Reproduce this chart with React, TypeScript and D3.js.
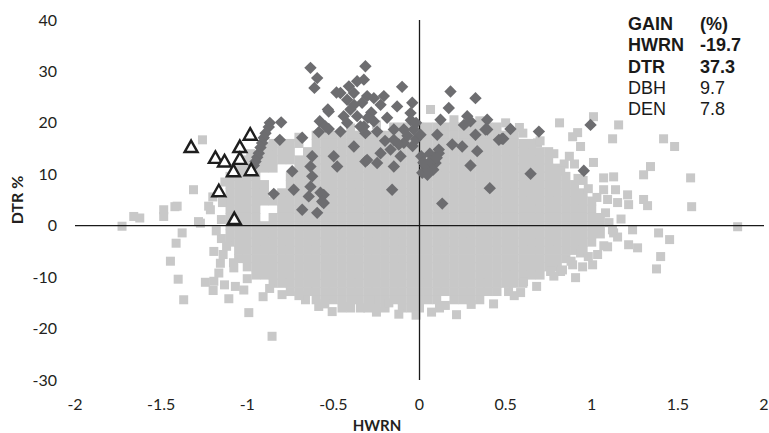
import React from 'react';
import * as d3 from 'd3';

const W = 769;
const H = 433;

const xTicks = [-2, -1.5, -1, -0.5, 0, 0.5, 1, 1.5, 2];
const yTicks = [-30, -20, -10, 0, 10, 20, 30, 40];

// Dense cloud of light-grey squares
const grayRows: [number, number[]][] = [
  [19.2, [-0.15, -0.1, -0.05, 0, 0.05, 0.1, 0.15, 0.2, 0.25, 0.3, 0.35, 0.4, 0.45]],
  [17.6, [-0.6, -0.55, -0.5, -0.45, -0.4, -0.35, -0.3, -0.25, -0.2, -0.15, -0.1, -0.05, 0, 0.05, 0.1, 0.15, 0.2, 0.25, 0.3, 0.35, 0.4, 0.45, 0.5, 0.55]],
  [16.0, [-0.85, -0.8, -0.75, -0.7, -0.6, -0.55, -0.5, -0.45, -0.4, -0.35, -0.3, -0.25, -0.2, -0.15, -0.1, -0.05, 0, 0.05, 0.1, 0.15, 0.2, 0.25, 0.3, 0.35, 0.4, 0.45, 0.5, 0.55, 0.6, 0.65]],
  [14.4, [-0.9, -0.85, -0.8, -0.75, -0.65, -0.6, -0.55, -0.5, -0.45, -0.4, -0.35, -0.3, -0.25, -0.2, -0.15, -0.1, -0.05, 0, 0.05, 0.1, 0.15, 0.2, 0.25, 0.3, 0.35, 0.4, 0.45, 0.5, 0.55, 0.6, 0.65, 0.7, 0.75]],
  [12.8, [-1, -0.95, -0.9, -0.85, -0.8, -0.75, -0.7, -0.65, -0.6, -0.55, -0.5, -0.45, -0.4, -0.35, -0.3, -0.25, -0.2, -0.15, -0.1, -0.05, 0, 0.05, 0.1, 0.15, 0.2, 0.25, 0.3, 0.35, 0.4, 0.45, 0.5, 0.55, 0.6, 0.65, 0.7, 0.75]],
  [11.2, [-1.05, -1, -0.95, -0.9, -0.85, -0.7, -0.65, -0.6, -0.55, -0.5, -0.45, -0.4, -0.35, -0.3, -0.25, -0.2, -0.15, -0.1, -0.05, 0, 0.05, 0.1, 0.15, 0.2, 0.25, 0.3, 0.35, 0.4, 0.45, 0.5, 0.55, 0.6, 0.65, 0.7, 0.75, 0.8]],
  [9.6, [-1.1, -1.05, -1, -0.95, -0.75, -0.7, -0.65, -0.6, -0.55, -0.5, -0.45, -0.4, -0.35, -0.3, -0.25, -0.2, -0.15, -0.1, -0.05, 0, 0.05, 0.1, 0.15, 0.2, 0.25, 0.3, 0.35, 0.4, 0.45, 0.5, 0.55, 0.6, 0.65, 0.7, 0.75, 0.8, 0.85]],
  [8.0, [-1.1, -1.05, -1, -0.95, -0.9, -0.75, -0.7, -0.65, -0.6, -0.55, -0.5, -0.45, -0.4, -0.35, -0.3, -0.25, -0.2, -0.15, -0.1, -0.05, 0, 0.05, 0.1, 0.15, 0.2, 0.25, 0.3, 0.35, 0.4, 0.45, 0.5, 0.55, 0.6, 0.65, 0.7, 0.75, 0.8, 0.85, 0.9]],
  [6.4, [-1.1, -1.05, -1, -0.95, -0.9, -0.8, -0.75, -0.7, -0.65, -0.6, -0.55, -0.5, -0.45, -0.4, -0.35, -0.3, -0.25, -0.2, -0.15, -0.1, -0.05, 0, 0.05, 0.1, 0.15, 0.2, 0.25, 0.3, 0.35, 0.4, 0.45, 0.5, 0.55, 0.6, 0.65, 0.7, 0.75, 0.8, 0.85, 0.9, 0.95]],
  [4.8, [-1.1, -1.05, -1, -0.95, -0.9, -0.85, -0.8, -0.75, -0.7, -0.65, -0.6, -0.55, -0.5, -0.45, -0.4, -0.35, -0.3, -0.25, -0.2, -0.15, -0.1, -0.05, 0, 0.05, 0.1, 0.15, 0.2, 0.25, 0.3, 0.35, 0.4, 0.45, 0.5, 0.55, 0.6, 0.65, 0.7, 0.75, 0.8, 0.85, 0.9, 0.95, 1]],
  [3.2, [-1.1, -1.05, -1, -0.95, -0.8, -0.75, -0.7, -0.65, -0.6, -0.55, -0.5, -0.45, -0.4, -0.35, -0.3, -0.25, -0.2, -0.15, -0.1, -0.05, 0, 0.05, 0.1, 0.15, 0.2, 0.25, 0.3, 0.35, 0.4, 0.45, 0.5, 0.55, 0.6, 0.65, 0.7, 0.75, 0.8, 0.85, 0.9, 0.95, 1]],
  [1.6, [-1.1, -1.05, -1, -0.95, -0.85, -0.8, -0.75, -0.7, -0.65, -0.6, -0.55, -0.5, -0.45, -0.4, -0.35, -0.3, -0.25, -0.2, -0.15, -0.1, -0.05, 0, 0.05, 0.1, 0.15, 0.2, 0.25, 0.3, 0.35, 0.4, 0.45, 0.5, 0.55, 0.6, 0.65, 0.7, 0.75, 0.8, 0.85, 0.9, 0.95, 1, 1.05]],
  [0, [-1.1, -1.05, -1, -0.95, -0.9, -0.85, -0.8, -0.75, -0.7, -0.65, -0.6, -0.55, -0.5, -0.45, -0.4, -0.35, -0.3, -0.25, -0.2, -0.15, -0.1, -0.05, 0, 0.05, 0.1, 0.15, 0.2, 0.25, 0.3, 0.35, 0.4, 0.45, 0.5, 0.55, 0.6, 0.65, 0.7, 0.75, 0.8, 0.85, 0.9, 0.95, 1, 1.05]],
  [-1.6, [-1.1, -1.05, -1, -0.95, -0.9, -0.85, -0.8, -0.75, -0.7, -0.65, -0.6, -0.55, -0.5, -0.45, -0.4, -0.35, -0.3, -0.25, -0.2, -0.15, -0.1, -0.05, 0, 0.05, 0.1, 0.15, 0.2, 0.25, 0.3, 0.35, 0.4, 0.45, 0.5, 0.55, 0.6, 0.65, 0.7, 0.75, 0.8, 0.85, 0.9, 0.95, 1, 1.05]],
  [-3.2, [-1.1, -1.05, -1, -0.95, -0.9, -0.85, -0.8, -0.75, -0.7, -0.65, -0.6, -0.55, -0.5, -0.45, -0.4, -0.35, -0.3, -0.25, -0.2, -0.15, -0.1, -0.05, 0, 0.05, 0.1, 0.15, 0.2, 0.25, 0.3, 0.35, 0.4, 0.45, 0.5, 0.55, 0.6, 0.65, 0.7, 0.75, 0.8, 0.85, 0.9, 0.95, 1]],
  [-4.8, [-1.05, -1, -0.95, -0.9, -0.85, -0.8, -0.75, -0.7, -0.65, -0.6, -0.55, -0.5, -0.45, -0.4, -0.35, -0.3, -0.25, -0.2, -0.15, -0.1, -0.05, 0, 0.05, 0.1, 0.15, 0.2, 0.25, 0.3, 0.35, 0.4, 0.45, 0.5, 0.55, 0.6, 0.65, 0.7, 0.75, 0.8, 0.85, 0.9, 0.95]],
  [-6.4, [-1.05, -1, -0.95, -0.9, -0.85, -0.8, -0.75, -0.7, -0.65, -0.6, -0.55, -0.5, -0.45, -0.4, -0.35, -0.3, -0.25, -0.2, -0.15, -0.1, -0.05, 0, 0.05, 0.1, 0.15, 0.2, 0.25, 0.3, 0.35, 0.4, 0.45, 0.5, 0.55, 0.6, 0.65, 0.7, 0.75, 0.8, 0.85]],
  [-8.0, [-1, -0.95, -0.9, -0.85, -0.8, -0.75, -0.7, -0.65, -0.6, -0.55, -0.5, -0.45, -0.4, -0.35, -0.3, -0.25, -0.2, -0.15, -0.1, -0.05, 0, 0.05, 0.1, 0.15, 0.2, 0.25, 0.3, 0.35, 0.4, 0.45, 0.5, 0.55, 0.6, 0.65, 0.7, 0.75, 0.8]],
  [-9.6, [-0.95, -0.9, -0.85, -0.8, -0.75, -0.7, -0.65, -0.6, -0.55, -0.5, -0.45, -0.4, -0.35, -0.3, -0.25, -0.2, -0.15, -0.1, -0.05, 0, 0.05, 0.1, 0.15, 0.2, 0.25, 0.3, 0.35, 0.4, 0.45, 0.5, 0.55, 0.6, 0.65, 0.7]],
  [-11.2, [-0.85, -0.8, -0.75, -0.7, -0.65, -0.6, -0.55, -0.5, -0.45, -0.4, -0.35, -0.3, -0.25, -0.2, -0.15, -0.1, -0.05, 0, 0.05, 0.1, 0.15, 0.2, 0.25, 0.3, 0.35, 0.4, 0.45, 0.5, 0.55, 0.6]],
  [-12.8, [-0.75, -0.7, -0.65, -0.6, -0.55, -0.5, -0.45, -0.4, -0.35, -0.3, -0.25, -0.2, -0.15, -0.1, -0.05, 0, 0.05, 0.1, 0.15, 0.2, 0.25, 0.3, 0.35, 0.4, 0.45]],
  [-14.4, [-0.6, -0.55, -0.5, -0.45, -0.4, -0.35, -0.3, -0.25, -0.2, -0.15, -0.1, -0.05, 0, 0.05, 0.1, 0.2, 0.25, 0.3, 0.35]],
  [-16.0, [-0.45, -0.4, -0.3, -0.25, -0.2, -0.1, -0.05, 0]],
  [-17.4, [-0.02]],
];

// Scattered light-grey squares around the cloud and along its ragged edges
const graySparse: [number, number][] = [
  [-1.26, 16.7], [-1.312, 7.0], [-1.42, 3.7], [-1.283, 0.8], [-1.214, 3.1], [-1.144, 4.5], [-1.2, 5.6],
  [-1.727, -0.1], [-1.659, 1.8], [-1.624, 1.5], [-1.485, 3.1], [-1.485, 1.8], [-1.407, 3.8], [-1.272, 0.5], [-1.224, 3.8],
  [-1.446, -6.9], [-1.401, -10.4], [-1.369, -14.4], [-1.413, -3.4], [-1.378, -1.4], [-1.194, -5.0], [-1.156, -7.3],
  [-1.165, -9.2], [-1.243, -11.0], [-1.194, -10.8], [-1.198, -12.6], [-1.132, -11.5], [-1.107, -14.2], [-1.078, -8.2],
  [-1.069, -11.8], [-1.02, -12.5], [-0.991, -16.9], [-0.908, -13.8], [-0.856, -21.5], [-0.798, -13.4], [-0.662, -14.4],
  [-0.585, -15.7], [-0.507, -16.7], [-0.42, -15.7], [-0.343, -16.0], [-0.285, -14.4], [-0.178, -15.0],
  [-1.15, -2.5], [-1.12, -4.0], [-1.18, -1.0],
  [0.064, 22.6], [0.813, 20.0], [1.01, 21.2], [1.156, 19.6], [0.918, 18.1], [0.889, 17.3], [1.121, 16.9], [1.417, 16.9],
  [1.481, 15.4], [0.685, 16.1], [0.604, 15.8], [0.935, 15.4], [1.01, 12.3], [1.341, 11.5], [1.574, 9.3], [1.069, 9.3],
  [1.127, 9.5], [1.301, 9.9], [1.069, 7.0], [1.138, 7.0], [1.208, 6.0], [1.301, 5.1], [1.324, 3.9], [1.092, 5.1],
  [1.15, 4.5], [1.214, 4.1], [1.58, 3.7], [0.87, 13.5], [0.9, 12.0], [0.95, 8.8],
  [1.237, -0.8], [1.388, -1.4], [1.452, -2.7], [1.214, -3.7], [1.266, -4.3], [1.4, -6.0], [1.376, -8.4], [1.847, -0.2],
  [1.092, -4.1], [1.034, -5.6], [1.005, -7.6], [0.947, -8.0], [0.889, -7.6], [0.906, -10.1], [0.819, -8.9], [0.761, -8.9],
  [0.604, -10.9], [0.587, -13.0], [0.517, -12.8], [0.116, -16.0], [0.215, -17.3], [1.127, -1.4], [0.935, -5.3],
  [0.83, -8.6], [1.15, -2.2], [1.1, 0.6], [1.17, 1.3],
  [0.78, 14.0], [0.84, 12.0], [0.98, 7.2], [1.03, 5.5], [1.08, 2.5], [1.12, -0.8], [1.07, -3.9], [0.98, -6.0],
  [0.88, -6.9], [0.78, -9.8], [0.68, -11.8], [0.55, -13.6], [0.43, -15.2], [0.3, -15.3], [0.15, -15.5], [0.07, -16.8],
  [-0.12, -17.2], [-0.25, -16.8], [-0.55, -15.2], [-0.7, -13.6], [-0.87, -12.2], [-1.0, -10.3], [-1.08, -7.2],
  [-1.14, -5.6], [-1.15, 1.2], [-1.13, 8.5], [-0.98, 14.0], [-0.88, 15.5], [-0.7, 17.2], [-0.4, 19.0], [-0.25, 19.6],
  [0.5, 20.0], [0.6, 18.0], [0.7, 16.5], [0.2, 20.6], [0.35, 20.4], [0.58, 19.1], [0.82, 10.6], [0.92, 9.2],
];

// Dark-grey diamonds
const diamonds: [number, number][] = [
  [-0.633, 30.7], [-0.594, 28.7], [-0.61, 26.8],
  [-0.532, 22.6], [-0.579, 20.3], [-0.527, 18.8], [-0.585, 18.2], [-0.681, 17.1],
  [-0.811, 16.7], [-0.803, 20.1], [-0.869, 20.0],
  [-0.875, 19.2], [-0.894, 18.0], [-0.904, 17.1], [-0.914, 16.1], [-0.923, 15.2], [-0.933, 14.1], [-0.942, 13.3], [-0.952, 12.5], [-0.962, 11.7],
  [-0.739, 10.6], [-0.73, 7.0], [-0.846, 6.2], [-0.681, 3.1], [-0.594, 2.5], [-0.556, 4.4], [-0.575, 6.4], [-0.643, 5.7],
  [-0.633, 7.6], [-0.623, 9.6], [-0.633, 11.5], [-0.623, 13.5],
  [-0.482, 25.9], [-0.459, 25.8], [-0.42, 24.5], [-0.41, 27.1], [-0.381, 25.8], [-0.362, 28.1], [-0.401, 22.6], [-0.44, 21.3],
  [-0.42, 20.0], [-0.362, 21.3], [-0.343, 19.3], [-0.314, 18.0], [-0.333, 23.9], [-0.304, 25.2], [-0.459, 18.3], [-0.546, 19.3], [-0.527, 22.2],
  [-0.314, 31.0], [-0.323, 28.4], [-0.101, 27.0], [-0.265, 24.8], [-0.207, 25.2], [-0.226, 23.5], [-0.13, 23.2], [-0.042, 23.9],
  [-0.052, 21.9], [-0.265, 20.3], [-0.188, 21.0], [-0.323, 19.3], [-0.246, 18.3], [-0.149, 18.7], [-0.091, 18.7], [-0.033, 18.7],
  [-0.149, 16.7], [-0.091, 16.1], [-0.168, 14.8], [-0.226, 14.1], [-0.304, 12.8], [-0.246, 12.2], [-0.149, 11.5], [-0.11, 13.5],
  [-0.159, 7.0], [-0.381, 15.4], [-0.498, 13.5], [-0.478, 11.5], [-0.314, 12.5], [-0.556, 6.0], [-0.565, 4.7],
  [-0.07, 17.5], [-0.02, 16.8], [-0.04, 15.5], [-0.12, 15.8], [-0.2, 16.5], [-0.05, 20.5], [-0.02, 20.0], [-0.28, 22.0], [-0.3, 21.0], [-0.38, 23.5],
  [0.006, 17.7], [0.18, 26.1], [0.325, 24.8], [0.17, 22.9], [0.122, 20.6], [0.277, 21.3], [0.296, 20.3], [0.393, 20.6],
  [0.393, 18.7], [0.528, 18.8], [0.693, 18.3], [0.103, 17.7], [0.19, 15.8], [0.248, 15.4], [0.335, 14.5], [0.325, 17.7],
  [0.48, 16.9], [0.112, 14.8], [0.074, 12.8], [0.035, 11.5], [0.016, 10.3], [0.296, 11.7], [0.645, 10.1], [0.408, 7.3],
  [0.132, 4.3], [0.258, 19.6], [0.093, 12.2], [0.025, 12.2], [0.045, 10.9], [0.083, 12.8], [0.112, 14.1], [0.383, 18.7],
  [0.461, 16.7], [0.993, 19.6], [0.954, 10.7], [0.486, 16.9], [0.01, 13.5], [0.06, 14.0],
  [0.023, 12.3], [0.064, 12.5], [0.1, 13.2], [0.08, 10.9], [0.046, 9.9],
];

// Open triangles
const triangles: [number, number][] = [
  [-1.326, 15.2], [-0.983, 17.6], [-1.043, 15.2], [-1.185, 13.1], [-1.132, 12.4],
  [-1.043, 12.9], [-1.08, 10.5], [-0.977, 10.7], [-1.165, 6.6], [-1.075, 1.2],
];

// Gain table
const gainLabels = ['GAIN', 'HWRN', 'DTR', 'DBH', 'DEN'];
const gainValues = ['(%)', '-19.7', '37.3', '9.7', '7.8'];
const gainBold = [true, true, true, false, false];

const xTitle = 'HWRN';
const yTitle = 'DTR %';

export default function App() {
  const x = d3.scaleLinear().domain([-2, 2]).range([75, 764]);
  const y = d3.scaleLinear().domain([-30, 40]).range([380, 20]);

  const grayPts: [number, number][] = [
    ...grayRows.flatMap(([yy, xs]) => xs.map((xx) => [xx, yy] as [number, number])),
    ...graySparse,
  ];

  const sq = 9;
  const dHalf = 6.2;
  const diamondPath = `M0,${-dHalf}L${dHalf},0L0,${dHalf}L${-dHalf},0Z`;
  const triPath = 'M0,-7L6.5,4.5L-6.5,4.5Z';
  const tickFont = 'Lato, "Open Sans", sans-serif';
  const legendFont = '"Liberation Sans", Arial, sans-serif';

  return (
    <svg
      width={W}
      height={H}
      viewBox={`0 0 ${W} ${H}`}
      style={{ position: 'absolute', left: 0, top: 0, background: '#fff' }}
    >
      <rect x={0} y={0} width={W} height={H} fill="#fff" />
      <g>
        {grayPts.map(([a, b], i) => (
          <rect key={i} x={x(a) - sq / 2} y={y(b) - sq / 2} width={sq} height={sq} fill="#c8c8c8" />
        ))}
      </g>
      <line x1={x(-2)} x2={x(2)} y1={y(0)} y2={y(0)} stroke="#1a1a1a" strokeWidth={1.3} />
      <line x1={x(0)} x2={x(0)} y1={y(-30)} y2={y(40)} stroke="#1a1a1a" strokeWidth={1.3} />
      <g>
        {diamonds.map(([a, b], i) => (
          <path key={i} d={diamondPath} transform={`translate(${x(a)},${y(b)})`} fill="#6d6d70" />
        ))}
      </g>
      <g>
        {triangles.map(([a, b], i) => (
          <path key={i} d={triPath} transform={`translate(${x(a)},${y(b)})`} fill="#fff" stroke="#1e1e1e" strokeWidth={2.4} strokeLinejoin="miter" />
        ))}
      </g>
      <g fontFamily={tickFont} fontSize={16} fill="#231f20">
        {xTicks.map((t) => (
          <text key={t} x={x(t)} y={410} textAnchor="middle">{String(t)}</text>
        ))}
        {yTicks.map((t) => (
          <text key={t} x={57} y={y(t) + 5.5} textAnchor="end">{String(t)}</text>
        ))}
      </g>
      <text x={377} y={431} textAnchor="middle" fontFamily={tickFont} fontSize={15} fontWeight="bold" fill="#231f20">{xTitle}</text>
      <text transform={`translate(23,200) rotate(-90)`} textAnchor="middle" fontFamily={tickFont} fontSize={16} fontWeight="bold" fill="#231f20">{yTitle}</text>
      <g fontFamily={legendFont} fontSize={18} fill="#1a1a1a">
        {gainLabels.map((l, i) => (
          <g key={l}>
            <text x={628} y={30 + i * 21.3} fontWeight={gainBold[i] ? 'bold' : 'normal'}>{l}</text>
            <text x={700} y={30 + i * 21.3} fontWeight={gainBold[i] ? 'bold' : 'normal'}>{gainValues[i]}</text>
          </g>
        ))}
      </g>
    </svg>
  );
}
